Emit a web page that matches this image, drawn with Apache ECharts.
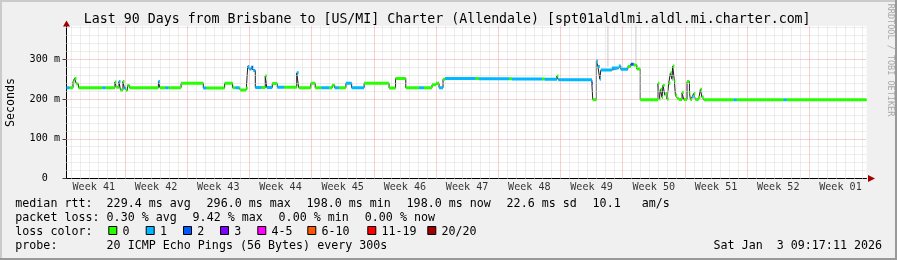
<!DOCTYPE html>
<html><head><meta charset="utf-8">
<script src="https://cdn.jsdelivr.net/npm/echarts@6/dist/echarts.min.js"></script>
<style>html,body{margin:0;padding:0;background:#f0f0f0}#c{width:897px;height:260px}</style>
</head><body><div id="c"></div><script>
// ---------- data ----------
// median RTT as steps: segment i runs from segDay[i] to segDay[i+1] (days since left edge)
const segDay = [0,0.34,0.73,0.90,1.12,1.35,4.04,4.38,5.45,5.62,5.90,6.07,6.35,6.52,6.69,6.85,7.08,10.34,10.51,11.12,11.46,12.89,15.39,15.73,17.79,18.69,18.99,19.44,19.55,20.22,20.39,20.56,20.79,21.01,21.24,21.91,22.36,22.53,23.15,23.71,24.49,25.90,26.12,27.49,27.98,28.65,29.55,29.89,30.17,30.67,31.43,32.08,33.48,36.29,37.02,38.17,39.66,40.22,41.12,41.57,41.91,42.36,42.58,46.0,46.4,49.8,50.1,53.5,53.8,55.17,55.34,59.10,59.21,59.61,59.78,60.00,60.11,61.35,62.13,62.36,63.15,63.48,63.8,64.16,64.55,66.55,66.70,66.82,67.00,67.11,67.30,67.38,67.56,67.75,67.94,68.12,68.20,68.39,68.50,68.69,68.88,69.25,69.44,69.81,70.08,70.19,70.37,70.56,70.75,71.12,71.31,71.49,71.69,75.06,75.39,80.67,81.01,90];
const segMs = [228.6,228.6,243,252,238,228.6,228.6,228.6,243,230,244,223,244,227,222,234,228.6,244,228.6,228.6,228.6,240,228,228,240,228.6,228.6,228.6,223,228,282,276,280,272,229,229,258,229,239,230,230,266,228.6,240,228.6,228.6,228.6,235,228.6,228.6,240,228.6,240,228,252,228.6,228.6,228.6,236,240,228.6,250,251.5,251.5,251,251,250.5,250.5,250,258,248.5,240,198,296,282,250,273,278,283,275,282,288,286,276,198,240,200,224.5,204,235,210,214,200,240,266,250,283,245,210,202,199,216,199,244,215,199,205,214,199,204,224.5,205,198,198,198,198,198,198];
const segLoss = [1,0,0,0,0,0,1,0,0,0,1,0,0,1,0,0,0,1,0,1,0,0,1,0,0,0,1,0,0,0,1,1,2,1,1,0,0,1,0,1,0,1,0,0,0,1,0,0,1,0,1,1,0,0,0,0,1,0,0,0,1,0,1,0,1,0,1,0,1,0,1,2,0,1,1,1,1,1,1,1,0,2,0,0,0,0,0,0,0,0,0,0,0,0,0,0,0,0,0,0,0,0,0,0,0,0,1,0,0,0,0,0,0,1,0,1,0];
// smoke (spread of pings) visible as thin grey columns
const smokeDay = [60.91, 64.06];
const smokeLow = [282, 292];
const smokeHigh = [384, 384];

const weekLabels = ['Week 41','Week 42','Week 43','Week 44','Week 45','Week 46','Week 47','Week 48','Week 49','Week 50','Week 51','Week 52','Week 01'];
const firstWeekStart = 6.57;   // first weekly grid line, days from left edge
const spanDays = 90;
const yMax = 384;
const yMajor = [100, 200, 300];
const yMinorStep = 20;

const title = 'Last 90 Days from Brisbane to [US/MI] Charter (Allendale) [spt01aldlmi.aldl.mi.charter.com]';
const rttStats = ['229.4 ms avg','296.0 ms max','198.0 ms min','198.0 ms now','22.6 ms sd','10.1   am/s'];
const lossStats = ['0.30 % avg','9.42 % max','0.00 % min','0.00 % now'];
const lossLabels = ['0','1','2','3','4-5','6-10','11-19','20/20'];
const lossColors = ['#26ff00','#00b8ff','#0059ff','#7e00ff','#ff00ff','#ff5500','#ff0000','#a10000'];
const probeText = '20 ICMP Echo Pings (56 Bytes) every 300s';
const stampText = 'Sat Jan  3 09:17:11 2026';

// ---------- build ----------
const MONO = 'DejaVu Sans Mono';
function medianLine(){const o=[];for(let i=0;i<segMs.length;i++){o.push([segDay[i],segMs[i]],[segDay[i+1],segMs[i]]);}return o;}
function lossBand(k){const o=[];for(let i=0;i<segMs.length;i++){if(segLoss[i]===k){o.push([segDay[i],segMs[i]],[segDay[i+1],segMs[i]],[segDay[i+1],null]);}}return o;}
function smoke(){const o=[];for(let i=0;i<smokeDay.length;i++){o.push([smokeDay[i],smokeLow[i]],[smokeDay[i],smokeHigh[i]],[smokeDay[i],null]);}return o;}

const weekLines=[],dayLines=[],weekMids=[];
for(let d=firstWeekStart; d<spanDays; d+=7) weekLines.push(+d.toFixed(3));
for(let d=firstWeekStart%1; d<spanDays; d+=1){ if(!weekLines.some(w=>Math.abs(w-d)<1e-6)) dayLines.push(+d.toFixed(3)); }
for(let i=0;i<weekLabels.length;i++) weekMids.push({name:weekLabels[i], value:[firstWeekStart-3.5+7*i,0]});
const hMinor=[]; for(let v=yMinorStep; v<yMax; v+=yMinorStep){ if(v%100!==0) hMinor.push(v); }

const minorStyle={color:'#dadada',width:1,type:[1,1]};
const majorStyle={color:'#f2a0a0',width:1,type:[1,1]};

const gfx=[];
function txt(x,y,t,size,extra){gfx.push(Object.assign({type:'text',x:x,y:y,silent:true,style:{text:t,fontFamily:MONO,fontSize:size,fill:'#000',align:'left',verticalAlign:'middle'}},extra||{}));}
// frame
gfx.push({type:'rect',shape:{x:0,y:0,width:897,height:2},style:{fill:'#cbcbcb'},silent:true});
gfx.push({type:'rect',shape:{x:0,y:0,width:2,height:260},style:{fill:'#cbcbcb'},silent:true});
gfx.push({type:'rect',shape:{x:0,y:258,width:897,height:2},style:{fill:'#999999'},silent:true});
gfx.push({type:'rect',shape:{x:895,y:0,width:2,height:260},style:{fill:'#999999'},silent:true});
// title
gfx.push({type:'text',x:447.2,y:19.5,silent:true,style:{text:title,fontFamily:MONO,fontSize:13.28,fill:'#000',align:'center',verticalAlign:'middle'}});
// y axis title
gfx.push({type:'text',x:11,y:102.5,rotation:Math.PI/2,silent:true,style:{text:'Seconds',fontFamily:MONO,fontSize:11.66,fill:'#000',align:'center',verticalAlign:'middle'}});
// watermark
gfx.push({type:'text',x:890.5,y:60,rotation:-Math.PI/2,silent:true,style:{text:'RRDTOOL / TOBI OETIKER',fontFamily:MONO,fontSize:8.5,fill:'#a8a8a8',align:'center',verticalAlign:'middle'}});
// legend
const LS=11.66, r1=204.4, r2=218.4, r3=232.4, r4=246.4;
txt(15.3,r1,'median rtt:',LS);
const rttX=[106.6,206.6,306.6,406.6,506.6,592.6];
rttStats.forEach((t,i)=>txt(rttX[i],r1,t,LS));
txt(15.3,r2,'packet loss:',LS);
const lossX=[106.6,192.6,278.6,364.8];
lossStats.forEach((t,i)=>txt(lossX[i],r2,t,LS));
txt(15.3,r3,'loss color:',LS);
const boxX=[108.3,145.7,183,220,257.3,307.3,367.3,427.3];
lossLabels.forEach((t,i)=>{
  gfx.push({type:'rect',silent:true,shape:{x:boxX[i]+0.5,y:226.5,width:8,height:8},style:{fill:lossColors[i],stroke:'#000',lineWidth:1}});
  txt(boxX[i]+14.2,r3,t,LS);
});
txt(15.3,r4,'probe:',LS);
txt(106.6,r4,probeText,LS);
gfx.push({type:'text',x:882,y:r4,silent:true,style:{text:stampText,fontFamily:MONO,fontSize:LS,fill:'#000',align:'right',verticalAlign:'middle'}});

const chart=echarts.init(document.getElementById('c'),null,{renderer:'canvas',width:897,height:260});
chart.setOption({
  animation:false,
  backgroundColor:'#f0f0f0',
  grid:{left:66.5,top:26,width:800,height:152.5,show:true,backgroundColor:'#ffffff',borderWidth:0},
  xAxis:{type:'value',min:0,max:spanDays,axisLine:{show:true,onZero:false,lineStyle:{color:'#000',width:1}},axisTick:{show:false},axisLabel:{show:false},splitLine:{show:false}},
  yAxis:{type:'value',min:0,max:yMax,interval:100,
    axisLine:{show:true,lineStyle:{color:'#000',width:1}},
    axisTick:{show:true,length:4,lineStyle:{color:'#404040'}},
    axisLabel:{show:true,showMaxLabel:false,margin:6.5,fontFamily:MONO,fontSize:10.1,color:'#000',padding:[0,0,2,0],
      formatter:v=>v===0?'0\u00a0\u00a0':(v%100===0?v+' m':'')},
    splitLine:{show:false}},
  graphic:gfx,
  series:[
    {name:'minorGrid',type:'line',data:[],silent:true,z:1,
     markLine:{silent:true,symbol:['none','none'],label:{show:false},lineStyle:minorStyle,animation:false,
       data:dayLines.map(d=>({xAxis:d})).concat(hMinor.map(v=>({yAxis:v})))}},
    {name:'majorGrid',type:'line',data:[],silent:true,z:2,
     markLine:{silent:true,symbol:['none','none'],label:{show:false},lineStyle:majorStyle,animation:false,
       data:weekLines.map(d=>({xAxis:d})).concat(yMajor.map(v=>({yAxis:v})))}},
    {name:'smoke',type:'line',data:smoke(),showSymbol:false,silent:true,z:3,connectNulls:false,lineStyle:{color:'#c8c8c8',width:1}},
    {name:'median',type:'line',data:medianLine(),showSymbol:false,silent:true,z:4,lineStyle:{color:'#202020',width:1}},
    ...[0,1,2].map(k=>({name:'loss'+k,type:'line',data:lossBand(k),showSymbol:false,silent:true,z:5,connectNulls:false,lineStyle:{color:lossColors[k],width:3,cap:'butt'}})),
    {name:'weeks',type:'scatter',data:weekMids,symbolSize:0,silent:true,clip:false,z:6,
     label:{show:true,position:'inside',offset:[0,9],formatter:'{b}',fontFamily:MONO,fontSize:10.1,color:'#000'},
     markPoint:{silent:true,symbol:'triangle',label:{show:false},itemStyle:{color:'#a10000'},animation:false,
       data:[{coord:[spanDays,0],symbolRotate:-90,symbolSize:[7,7],symbolOffset:[5,0]},{coord:[0,yMax],symbolSize:[7,6],symbolOffset:[0,-2.5]}]}}
  ]
});
</script></body></html>
